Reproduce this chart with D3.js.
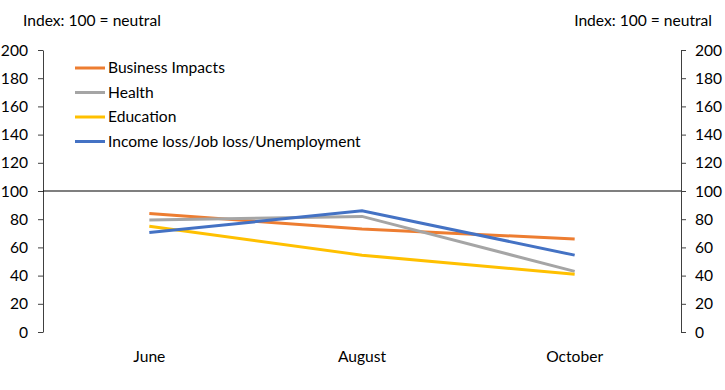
<!DOCTYPE html>
<html><head><meta charset="utf-8">
<script src="https://cdn.jsdelivr.net/npm/d3@7"></script>
<style>body{margin:0;background:#fff}text{font-family:Lato,"Open Sans",sans-serif;fill:#000}</style>
</head><body><svg id="c" width="725" height="390"></svg>
<script>
const categories = ["June", "August", "October"];
const seriesNames = ["Business Impacts", "Health", "Education", "Income loss/Job loss/Unemployment"];
const businessImpacts = [84, 73, 66];
const health = [79.5, 82, 43];
const education = [75, 54.5, 41];
const incomeLoss = [70.5, 86, 54.5];
const yTicks = [0, 20, 40, 60, 80, 100, 120, 140, 160, 180, 200];
const colors = ["#ED7D31", "#A5A5A5", "#FFC000", "#4472C4"];
const seriesValues = [businessImpacts, health, education, incomeLoss];

const svg = d3.select("#c");
const L = 43, R = 681, T = 50, B = 332;
const x = d3.scaleBand().domain(categories).range([L, R]);
const y = d3.scaleLinear().domain([0, 200]).range([B, T]);
const fs = 15.6;

const la = svg.append("g").attr("transform", `translate(${L},0)`)
  .call(d3.axisLeft(y).tickValues(yTicks).tickSize(5).tickPadding(10).tickSizeOuter(0));
const ra = svg.append("g").attr("transform", `translate(${R},0)`)
  .call(d3.axisRight(y).tickValues(yTicks).tickSize(5).tickPadding(9).tickSizeOuter(0));
[la, ra].forEach(a => {
  a.select(".domain").attr("stroke", "#404040").attr("stroke-width", 1);
  a.selectAll(".tick line").attr("stroke", "#404040");
  a.selectAll("text").style("font-size", fs + "px").attr("fill", "#000").style("font-family", "Lato");
});

svg.append("line").attr("x1", L).attr("x2", R).attr("y1", y(100)).attr("y2", y(100))
  .attr("stroke", "#000").attr("stroke-width", 1.2);

svg.append("g").selectAll("text").data(categories).join("text")
  .attr("x", d => x(d) + x.bandwidth() / 2).attr("y", 362)
  .attr("text-anchor", "middle").style("font-size", fs + "px").text(d => d);

const line = d3.line().x((d, i) => x(categories[i]) + x.bandwidth() / 2).y(d => y(d));
seriesValues.forEach((vals, k) => {
  svg.append("path").datum(vals).attr("d", line).attr("fill", "none")
    .attr("stroke", colors[k]).attr("stroke-width", 3);
});

const lg = svg.append("g");
seriesNames.forEach((n, k) => {
  const yy = 68 + k * 24.5;
  lg.append("line").attr("x1", 75).attr("x2", 105).attr("y1", yy).attr("y2", yy)
    .attr("stroke", colors[k]).attr("stroke-width", 3);
  lg.append("text").attr("x", 108).attr("y", yy + 5).style("font-size", fs + "px").text(n);
});

svg.append("text").attr("x", 23).attr("y", 26).style("font-size", fs + "px").text("Index: 100 = neutral");
svg.append("text").attr("x", 712).attr("y", 26).attr("text-anchor", "end").style("font-size", fs + "px").text("Index: 100 = neutral");
</script></body></html>
